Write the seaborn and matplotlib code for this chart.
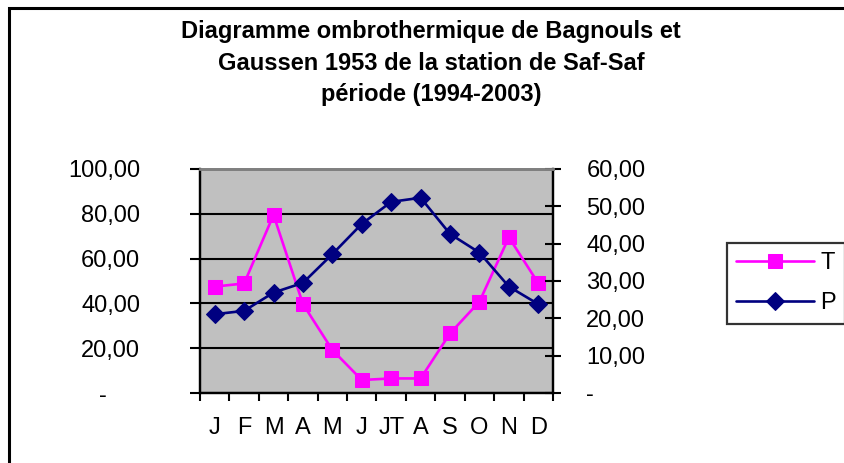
import numpy as np
import pandas as pd
import matplotlib
matplotlib.use('Agg')
import matplotlib.pyplot as plt
from matplotlib.ticker import FixedLocator, FuncFormatter, NullFormatter
from matplotlib.patches import Rectangle
import seaborn as sns

# Data
months = ['J', 'F', 'M', 'A', 'M', 'J', 'JT', 'A', 'S', 'O', 'N', 'D']
T = [47.5, 48.9, 79.5, 39.7, 19.2, 5.8, 6.5, 6.5, 26.6, 40.8, 69.5, 49.0]   # left axis
P = [21.1, 22.0, 26.9, 29.5, 37.2, 45.3, 51.2, 52.3, 42.6, 37.6, 28.5, 23.8]  # right axis
left_ticks = [0, 20, 40, 60, 80, 100]
right_ticks = [0, 10, 20, 30, 40, 50, 60]
title = ('Diagramme ombrothermique de Bagnouls et\n'
         'Gaussen 1953 de la station de Saf-Saf\n'
         'période (1994-2003)')

sns.set_theme(style='white')
plt.rcParams['font.family'] = ['Liberation Sans', 'DejaVu Sans']
plt.rcParams.update({'text.color': 'black', 'axes.labelcolor': 'black',
                     'xtick.color': 'black', 'ytick.color': 'black'})

W, H = 845, 463
fig = plt.figure(figsize=(W / 100, H / 100), dpi=100)
fig.patch.set_facecolor('white')

# plot area in pixel coords: x 200-553, y 169-393
ax = fig.add_axes([200 / W, 1 - 393 / H, 353 / W, 224 / H])
ax.set_facecolor('#C0C0C0')
ax2 = ax.twinx()

df = pd.DataFrame({'pos': np.arange(len(months)), 'T': T, 'P': P})

sns.lineplot(data=df, x='pos', y='T', ax=ax, color='#FF00FF', lw=1.9,
             marker='s', markersize=10, markeredgecolor='#FF00FF',
             label='T', legend=False, zorder=4)
sns.lineplot(data=df, x='pos', y='P', ax=ax2, color='#000080', lw=1.9,
             marker='D', markersize=9, markeredgecolor='#000080',
             label='P', legend=False, zorder=4)

ax.set_xlim(-0.5, len(months) - 0.5)
ax.set_ylim(0, 100)
ax2.set_ylim(0, 60)


def fmt(v, pos):
    if v == 0:
        return '-'
    return f'{v:.2f}'.replace('.', ',')


def fmt_left(v, pos):
    if v == 0:
        return '-     '
    return fmt(v, pos)


ax.yaxis.set_major_locator(FixedLocator(left_ticks))
ax.yaxis.set_major_formatter(FuncFormatter(fmt_left))
ax2.yaxis.set_major_locator(FixedLocator(right_ticks))
ax2.yaxis.set_major_formatter(FuncFormatter(fmt))

# category ticks between months, labels centred
ax.xaxis.set_major_locator(FixedLocator(np.arange(-0.5, len(months), 1)))
ax.xaxis.set_major_formatter(NullFormatter())
ax.xaxis.set_minor_locator(FixedLocator(np.arange(len(months))))
ax.set_xticklabels(months, minor=True)
ax.tick_params(axis='x', which='major', direction='out', length=6, width=1.5,
               bottom=True)
ax.tick_params(axis='x', which='minor', length=0, pad=17, labelsize=17,
               bottom=True)
ax.tick_params(axis='y', direction='out', length=7, width=1.5,
               pad=36, labelsize=17, left=True)
ax2.tick_params(axis='y', direction='inout', length=12, width=1.5,
                pad=18, labelsize=17, right=True)
for lab in ax2.get_yticklabels():
    lab.set_horizontalalignment('left')

ax.set_xlabel('')
ax.set_ylabel('')
ax2.set_ylabel('')

ax.grid(axis='y', color='black', lw=1.5)
ax.set_axisbelow(True)
for a in (ax, ax2):
    for side in ('left', 'bottom', 'right'):
        a.spines[side].set_color('black')
        a.spines[side].set_linewidth(1.6)
    a.spines['top'].set_color('#808080')
    a.spines['top'].set_linewidth(2)

fig.text(431 / W, 1 - 63 / H, title, ha='center', va='center',
         fontsize=17, fontweight='bold', linespacing=1.48)

handles = [ax.get_lines()[0], ax2.get_lines()[0]]
leg = fig.legend(handles, ['T', 'P'], loc='upper left',
                 bbox_to_anchor=(727 / W, 1 - 243 / H), borderaxespad=0,
                 fontsize=17, frameon=True, fancybox=False,
                 handlelength=3.3, handletextpad=0.25, borderpad=0.4,
                 labelspacing=0.75)
leg.get_frame().set_edgecolor('black')
leg.get_frame().set_linewidth(1.6)
leg.get_frame().set_facecolor('white')

# chart frame (only top and left edges visible)
fig.add_artist(Rectangle((9.5 / W, -0.1), 2, (H - 8) / H + 0.1,
                         transform=fig.transFigure, fill=False,
                         edgecolor='black', lw=2.2))

fig.savefig('out.png', dpi=100)
